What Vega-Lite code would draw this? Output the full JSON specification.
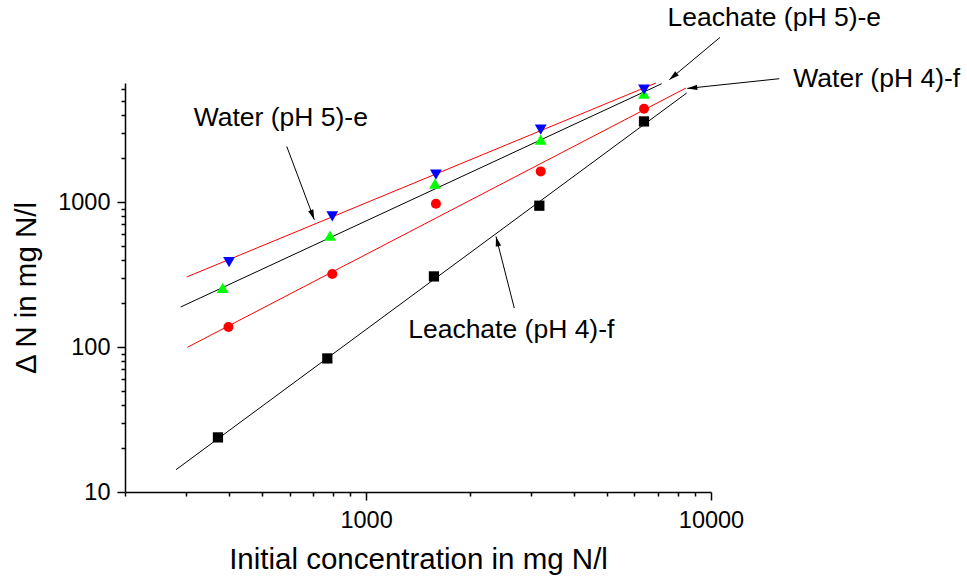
{
  "$schema": "https://vega.github.io/schema/vega-lite/v6.json",
  "width": 586,
  "height": 409,
  "autosize": "none",
  "padding": {"left": 125, "top": 83, "right": 256, "bottom": 85},
  "background": "white",
  "config": {
    "view": {"stroke": null},
    "font": "Liberation Sans",
    "axis": {
      "grid": false,
      "domainColor": "black",
      "domainWidth": 1.5,
      "tickColor": "black",
      "tickWidth": 1.5,
      "labelColor": "black",
      "titleColor": "black",
      "labelFont": "Liberation Sans",
      "titleFont": "Liberation Sans",
      "labelFontSize": 23.5,
      "titleFontSize": 29.5,
      "titleFontWeight": "normal",
      "labelOverlap": false,
      "labelFlush": false
    }
  },
  "datasets": {
    "points": [
      {"series": "Leachate (pH 4)-f", "x": 372, "y": 23.8},
      {"series": "Leachate (pH 4)-f", "x": 772, "y": 83.4},
      {"series": "Leachate (pH 4)-f", "x": 1573, "y": 306.8},
      {"series": "Leachate (pH 4)-f", "x": 3179, "y": 943},
      {"series": "Leachate (pH 4)-f", "x": 6394, "y": 3596},
      {"series": "Water (pH 4)-f", "x": 399, "y": 137.4},
      {"series": "Water (pH 4)-f", "x": 798, "y": 318.7},
      {"series": "Water (pH 4)-f", "x": 1594, "y": 973},
      {"series": "Water (pH 4)-f", "x": 3209, "y": 1626},
      {"series": "Water (pH 4)-f", "x": 6394, "y": 4399},
      {"series": "Leachate (pH 5)-e", "x": 384, "y": 255.3},
      {"series": "Leachate (pH 5)-e", "x": 786, "y": 585.6},
      {"series": "Leachate (pH 5)-e", "x": 1584, "y": 1337},
      {"series": "Leachate (pH 5)-e", "x": 3209, "y": 2689},
      {"series": "Leachate (pH 5)-e", "x": 6394, "y": 5583},
      {"series": "Water (pH 5)-e", "x": 400.6, "y": 385.6},
      {"series": "Water (pH 5)-e", "x": 798, "y": 795.6},
      {"series": "Water (pH 5)-e", "x": 1594, "y": 1543},
      {"series": "Water (pH 5)-e", "x": 3209, "y": 3152},
      {"series": "Water (pH 5)-e", "x": 6394, "y": 5950}
    ],
    "fits": [
      {"series": "Leachate (pH 4)-f", "kind": "Leachate", "x": 281.1, "y": 14.25},
      {"series": "Leachate (pH 4)-f", "kind": "Leachate", "x": 8502, "y": 5645},
      {"series": "Water (pH 4)-f", "kind": "Water", "x": 303.1, "y": 99.4},
      {"series": "Water (pH 4)-f", "kind": "Water", "x": 8462, "y": 6112},
      {"series": "Leachate (pH 5)-e", "kind": "Leachate", "x": 290.1, "y": 188.8},
      {"series": "Leachate (pH 5)-e", "kind": "Leachate", "x": 7196, "y": 6544},
      {"series": "Water (pH 5)-e", "kind": "Water", "x": 301.9, "y": 303.9},
      {"series": "Water (pH 5)-e", "kind": "Water", "x": 6928, "y": 6619}
    ],
    "arrows": [
      {"label": "Water (pH 5)-e", "x": 707.6, "y": 755.1, "xs": 588.8, "ys": 2418},
      {"label": "Leachate (pH 4)-f", "x": 2380, "y": 579.1, "xs": 2689, "ys": 185.8},
      {"label": "Leachate (pH 5)-e", "x": 7570, "y": 6972, "xs": 10619, "ys": 13650},
      {"label": "Water (pH 4)-f", "x": 8536, "y": 6073, "xs": 15779, "ys": 7085}
    ],
    "labels": [
      {"label": "Water (pH 5)-e", "x": 565.9, "y": 3359},
      {"label": "Leachate (pH 4)-f", "x": 2636, "y": 115.4},
      {"label": "Leachate (pH 5)-e", "x": 15253, "y": 16255},
      {"label": "Water (pH 4)-f", "x": 30230, "y": 6210}
    ]
  },
  "encoding": {
    "x": {
      "field": "x",
      "type": "quantitative",
      "scale": {"type": "log", "domain": [200, 10000], "nice": false},
      "axis": {
        "title": "Initial concentration in mg N/l",
        "values": [200, 300, 400, 500, 600, 700, 800, 900, 1000, 2000, 3000, 4000, 5000, 6000, 7000, 8000, 9000, 10000],
        "labelExpr": "indexof([1000, 10000], datum.value) >= 0 ? format(datum.value, 'd') : ''",
        "tickSize": {"condition": {"test": "indexof([1000, 10000], datum.value) >= 0", "value": 8}, "value": 4},
        "labelPadding": 8,
        "titlePadding": 14
      }
    },
    "y": {
      "field": "y",
      "type": "quantitative",
      "scale": {"type": "log", "domain": [10, 6619], "nice": false},
      "axis": {
        "title": "Δ N in mg N/l",
        "values": [10, 20, 30, 40, 50, 60, 70, 80, 90, 100, 200, 300, 400, 500, 600, 700, 800, 900, 1000, 2000, 3000, 4000, 5000, 6000],
        "labelExpr": "indexof([10, 100, 1000], datum.value) >= 0 ? format(datum.value, 'd') : ''",
        "tickSize": {"condition": {"test": "indexof([10, 100, 1000], datum.value) >= 0", "value": 8}, "value": 4},
        "labelPadding": 7,
        "titlePadding": 16
      }
    }
  },
  "layer": [
    {
      "data": {"name": "fits"},
      "transform": [{"filter": "datum.kind == 'Leachate'"}],
      "mark": {"type": "line", "color": "black", "strokeWidth": 1},
      "encoding": {"detail": {"field": "series"}}
    },
    {
      "data": {"name": "fits"},
      "transform": [{"filter": "datum.kind == 'Water'"}],
      "mark": {"type": "line", "color": "#ff0000", "strokeWidth": 1},
      "encoding": {"detail": {"field": "series"}}
    },
    {
      "data": {"name": "points"},
      "transform": [{"filter": "datum.series == 'Leachate (pH 4)-f'"}],
      "mark": {"type": "point", "shape": "square", "filled": true, "color": "black", "size": 105, "opacity": 1}
    },
    {
      "data": {"name": "points"},
      "transform": [{"filter": "datum.series == 'Water (pH 4)-f'"}],
      "mark": {"type": "point", "shape": "circle", "filled": true, "color": "#ff0000", "size": 100, "opacity": 1}
    },
    {
      "data": {"name": "points"},
      "transform": [{"filter": "datum.series == 'Leachate (pH 5)-e'"}],
      "mark": {"type": "point", "shape": "triangle-up", "filled": true, "color": "#00ff00", "size": 140, "opacity": 1}
    },
    {
      "data": {"name": "points"},
      "transform": [{"filter": "datum.series == 'Water (pH 5)-e'"}],
      "mark": {"type": "point", "shape": "triangle-down", "filled": true, "color": "#0000ff", "size": 140, "opacity": 1}
    },
    {
      "data": {"name": "arrows"},
      "mark": {"type": "rule", "color": "black", "strokeWidth": 1},
      "encoding": {
        "x2": {"field": "xs"},
        "y2": {"field": "ys"}
      }
    },
    {
      "data": {"name": "arrows"},
      "transform": [{"filter": "datum.label == 'Water (pH 5)-e'"}],
      "mark": {"type": "point", "shape": "M0,0L-0.55,2L0.55,2Z", "filled": true, "color": "black", "size": 100, "opacity": 1, "angle": 159.4}
    },
    {
      "data": {"name": "arrows"},
      "transform": [{"filter": "datum.label == 'Leachate (pH 4)-f'"}],
      "mark": {"type": "point", "shape": "M0,0L-0.55,2L0.55,2Z", "filled": true, "color": "black", "size": 100, "opacity": 1, "angle": -14.3}
    },
    {
      "data": {"name": "arrows"},
      "transform": [{"filter": "datum.label == 'Leachate (pH 5)-e'"}],
      "mark": {"type": "point", "shape": "M0,0L-0.55,2L0.55,2Z", "filled": true, "color": "black", "size": 100, "opacity": 1, "angle": -129.8}
    },
    {
      "data": {"name": "arrows"},
      "transform": [{"filter": "datum.label == 'Water (pH 4)-f'"}],
      "mark": {"type": "point", "shape": "M0,0L-0.55,2L0.55,2Z", "filled": true, "color": "black", "size": 100, "opacity": 1, "angle": -96.0}
    },
    {
      "data": {"name": "labels"},
      "mark": {"type": "text", "font": "Liberation Sans", "fontSize": 26.5, "color": "black", "align": "center", "baseline": "alphabetic"},
      "encoding": {"text": {"field": "label"}}
    }
  ]
}
